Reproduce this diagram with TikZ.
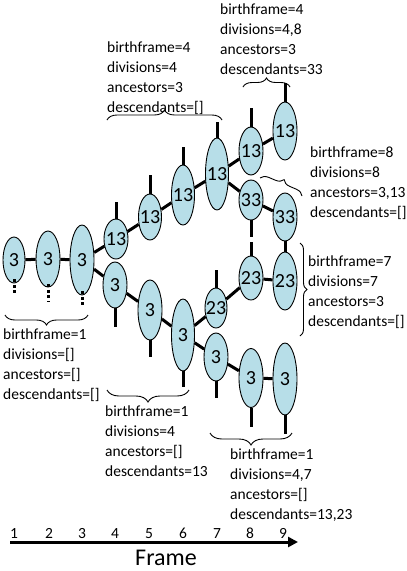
\documentclass[tikz,border=0pt]{standalone}
\usepackage{fontspec}
\setmainfont{Carlito}
\usetikzlibrary{shapes.geometric,decorations.pathreplacing,arrows.meta}
\definecolor{cellblue}{HTML}{B7DEE8}
\newcommand\cellnum[1]{\makebox[0pt]{#1}}
\begin{document}
\begin{tikzpicture}[x=1pt,y=-1pt,
  cell/.style={ellipse,draw=black,line width=0.9pt,fill=cellblue,inner sep=0pt,
    font=\fontsize{20}{20}\selectfont},
  link/.style={line width=3pt},
  dotlink/.style={line width=3pt,dash pattern=on 3pt off 2.5pt},
  lbl/.style={anchor=north west,inner sep=0pt,align=left,
    font=\fontsize{15.5}{20}\selectfont},
  brc/.style={decorate,decoration={brace,amplitude=#1},line width=0.9pt},
  brc/.default=10pt,
  tick/.style={anchor=base,inner sep=0pt,font=\fontsize{15.5}{18}\selectfont},
]
\useasboundingbox (0,0) rectangle (407,571);

% lineage 3 (frames 1-3)
\node[cell,minimum width=22pt,minimum height=46pt] (A1) at (14,260) {\cellnum{3}};
\node[cell,minimum width=24pt,minimum height=56pt] (A2) at (48,259) {\cellnum{3}};
\node[cell,minimum width=24pt,minimum height=70pt] (A3) at (82,260) {\cellnum{3}};
% lineage 13
\node[cell,minimum width=24pt,minimum height=40pt] (B4) at (116,239) {\cellnum{13}};
\node[cell,minimum width=23pt,minimum height=46pt] (B5) at (150,217) {\cellnum{13}};
\node[cell,minimum width=23pt,minimum height=60pt] (B6) at (183,195) {\cellnum{13}};
\node[cell,minimum width=23pt,minimum height=72pt] (B7) at (217,174) {\cellnum{13}};
\node[cell,minimum width=24pt,minimum height=48pt] (B8) at (251,151) {\cellnum{13}};
\node[cell,minimum width=24pt,minimum height=58pt] (B9) at (285,131) {\cellnum{13}};
% lineage 33
\node[cell,minimum width=24pt,minimum height=40pt] (C8) at (251,200) {\cellnum{33}};
\node[cell,minimum width=24pt,minimum height=48pt] (C9) at (285,217) {\cellnum{33}};
% lineage 23
\node[cell,minimum width=22pt,minimum height=40pt] (D7) at (216,308) {\cellnum{23}};
\node[cell,minimum width=24pt,minimum height=44pt] (D8) at (251,278) {\cellnum{23}};
\node[cell,minimum width=24pt,minimum height=58pt] (D9) at (285,281) {\cellnum{23}};
% lineage 3 (frames 4-9)
\node[cell,minimum width=24pt,minimum height=46pt] (E4) at (115,285) {\cellnum{3}};
\node[cell,minimum width=24pt,minimum height=60pt] (E5) at (150,310) {\cellnum{3}};
\node[cell,minimum width=23pt,minimum height=72pt] (E6) at (183,335) {\cellnum{3}};
\node[cell,minimum width=24pt,minimum height=48pt] (E7) at (216,357) {\cellnum{3}};
\node[cell,minimum width=24pt,minimum height=59pt] (E8) at (251,378) {\cellnum{3}};
\node[cell,minimum width=24pt,minimum height=72pt] (E9) at (285,379) {\cellnum{3}};

% connectors
\draw[link] (A1) -- (A2);
\draw[link] (A2) -- (A3);
\draw[link] (A3) -- (B4);
\draw[link] (A3) -- (E4);
\draw[link] (B4) -- (B5);
\draw[link] (B5) -- (B6);
\draw[link] (B6) -- (B7);
\draw[link] (B7) -- (B8);
\draw[link] (B8) -- (B9);
\draw[link] (B7) -- (C8);
\draw[link] (C8) -- (C9);
\draw[link] (C9) -- (D9);
\draw[link] (D8) -- (D9);
\draw[link] (E6) -- (D7);
\draw[link] (D7) -- (D8);
\draw[link] (E4) -- (E5);
\draw[link] (E5) -- (E6);
\draw[link] (E6) -- (E7);
\draw[link] (E7) -- (E8);
\draw[link] (E8) -- (E9);

% stubs
\draw[dotlink] ([yshift=4pt]A1.south) -- ++(0,16);
\draw[dotlink] ([yshift=3pt]A2.south) -- ++(0,17);
\draw[dotlink] ([yshift=4pt]A3.south) -- ++(0,14);
\draw[link] (B4.north) -- ++(0,-17);
\draw[link] (B5.north) -- ++(0,-19);
\draw[link] (B6.north) -- ++(0,-18);
\draw[link] (B7.north) -- ++(0,-16);
\draw[link] (B8.north) -- ++(0,-19);
\draw[link] (B9.north) -- ++(0,-19);
\draw[link] (C8.south) -- ++(0,17);
\draw[link] (D8.north) -- ++(0,-14);
\draw[link] (D7.north) -- ++(0,-18);
\draw[link] (E4.south) -- ++(0,19);
\draw[link] (E5.south) -- ++(0,17);
\draw[link] (E6.south) -- ++(0,16);
\draw[link] (E7.south) -- ++(0,17);
\draw[link] (E8.south) -- ++(0,19);
\draw[link] (E9.south) -- ++(0,19);

% braces
\draw[brc=10pt] (88,315) -- (5,315);
\draw[brc=12pt] (189,390) -- (107,390);
\draw[brc=12pt] (292,433) -- (210,433);
\draw[brc=10pt] (107,120) -- (222,120);
\draw[brc=9pt] (243,87) -- (290,87);
\draw[brc=8pt] (260,178) -- (302,196);
\draw[brc=7pt] (300,243) -- (300,336);

% labels
\node[lbl] (L1) at (3,329) {birthframe=1\\divisions=[]\\ancestors=[]\\descendants=[]};
\node[lbl] (L2) at (105,406) {birthframe=1\\divisions=4\\ancestors=[]\\descendants=13};
\node[lbl] (L3) at (230,449) {birthframe=1\\divisions=4,7\\ancestors=[]\\descendants=13,23};
\node[lbl] (L4) at (107,42) {birthframe=4\\divisions=4\\ancestors=3\\descendants=[]};
\node[lbl] (L5) at (220,4) {birthframe=4\\divisions=4,8\\ancestors=3\\descendants=33};
\node[lbl] (L6) at (310,147) {birthframe=8\\divisions=8\\ancestors=3,13\\descendants=[]};
\node[lbl] (L7) at (308,256) {birthframe=7\\divisions=7\\ancestors=3\\descendants=[]};

% axis
\coordinate (ax0) at (10,542);
\coordinate (ax1) at (298,542);
\draw[line width=3pt,-{Triangle[length=10pt,width=10pt]}] (ax0) -- (ax1);
\foreach \n/\x in {1/14,2/49,3/82,4/115,5/149,6/183,7/217,8/250,9/283}
  \node[tick] (t\n) at (\x,538) {\n};
\node[anchor=base,inner sep=0pt,font=\fontsize{24}{24}\selectfont] (frame) at (166,565) {Frame};
\end{tikzpicture}
\end{document}
